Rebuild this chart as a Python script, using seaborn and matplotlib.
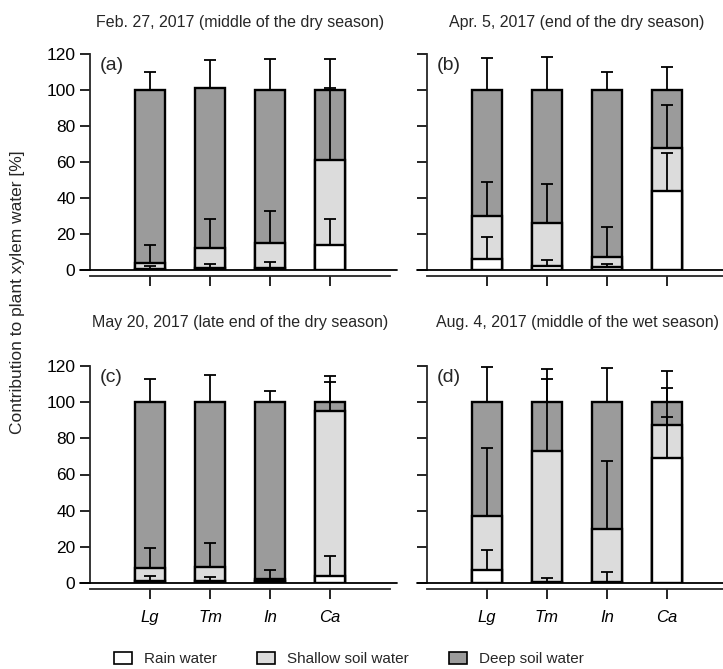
import matplotlib
matplotlib.use("Agg")
import matplotlib.pyplot as plt
import numpy as np
import pandas as pd
import seaborn as sns
from matplotlib.patches import Patch

# ---- data: mean contribution of each water source (%) and upper SD ----
species = ["Lg", "Tm", "In", "Ca"]
sources = ["Rain water", "Shallow soil water", "Deep soil water"]
panel_letters = ["(a)", "(b)", "(c)", "(d)"]
panel_titles = [
    "Feb. 27, 2017 (middle of the dry season)",
    "Apr. 5, 2017 (end of the dry season)",
    "May 20, 2017 (late end of the dry season)",
    "Aug. 4, 2017 (middle of the wet season)",
]

rain_a = [0.5, 1.0, 1.0, 14.0]
shallow_a = [3.5, 11.0, 14.0, 47.0]
deep_a = [96.0, 89.0, 85.0, 39.0]
rain_sd_a = [1.5, 2.3, 3.3, 14.3]
shallow_sd_a = [10.0, 16.5, 18.0, 40.3]
deep_sd_a = [10.0, 15.6, 17.0, 17.2]

rain_b = [6.0, 2.0, 1.5, 44.0]
shallow_b = [24.0, 24.0, 5.5, 24.0]
deep_b = [70.0, 74.0, 93.0, 32.0]
rain_sd_b = [12.2, 3.3, 1.8, 21.2]
shallow_sd_b = [19.0, 21.7, 16.8, 23.7]
deep_sd_b = [17.7, 18.6, 9.8, 12.9]

rain_c = [1.0, 1.0, 1.0, 4.0]
shallow_c = [7.3, 8.0, 1.4, 91.0]
deep_c = [91.7, 91.0, 97.6, 5.0]
rain_sd_c = [3.0, 2.3, 0.8, 10.7]
shallow_sd_c = [10.8, 13.2, 4.6, 16.4]
deep_sd_c = [12.7, 15.0, 6.0, 14.3]

rain_d = [7.0, 0.7, 0.7, 69.0]
shallow_d = [30.0, 72.3, 29.3, 18.3]
deep_d = [63.0, 27.0, 70.0, 12.7]
rain_sd_d = [11.5, 2.1, 5.2, 22.7]
shallow_sd_d = [37.5, 40.0, 37.7, 20.8]
deep_sd_d = [19.2, 18.6, 19.0, 17.2]

panels = [
    (rain_a, shallow_a, deep_a, rain_sd_a, shallow_sd_a, deep_sd_a),
    (rain_b, shallow_b, deep_b, rain_sd_b, shallow_sd_b, deep_sd_b),
    (rain_c, shallow_c, deep_c, rain_sd_c, shallow_sd_c, deep_sd_c),
    (rain_d, shallow_d, deep_d, rain_sd_d, shallow_sd_d, deep_sd_d),
]

colors = {"Rain water": "#ffffff", "Shallow soil water": "#dcdcdc",
          "Deep soil water": "#9b9b9b"}

sns.set_style("ticks")
plt.rcParams["font.family"] = ["Liberation Sans", "DejaVu Sans"]

W, H = 723, 669
fig = plt.figure(figsize=(W / 100, H / 100), dpi=100)

# axes boxes in pixels: left, top(y=120), width, height
boxes = [(90, 54, 300, 216), (427, 54, 300, 216),
         (90, 366, 300, 217), (427, 366, 300, 217)]
title_y = [22, 22, 323, 323]

for i, (box, vals) in enumerate(zip(boxes, panels)):
    left, top, w, h = box
    ax = fig.add_axes([left / W, 1 - (top + h) / H, w / W, h / H])
    rain, shallow, deep, rsd, ssd, dsd = [np.asarray(v, float) for v in vals]
    cum_rain = rain
    cum_shallow = rain + shallow
    cum_deep = rain + shallow + deep
    df = pd.DataFrame({
        "species": species * 3,
        "source": np.repeat(sources, len(species)),
        "cum": np.concatenate([cum_rain, cum_shallow, cum_deep]),
    })
    # stacked look: draw the tallest cumulative level first
    for src in sources[::-1]:
        sub = df[df["source"] == src]
        sns.barplot(data=sub, x="species", y="cum", order=species,
                    color=colors[src], saturation=1, edgecolor="black",
                    linewidth=1.7, width=0.5, errorbar=None, ax=ax, zorder=2)
    x = np.arange(len(species))
    for cum, sd in [(cum_rain, rsd), (cum_shallow, ssd), (cum_deep, dsd)]:
        ax.errorbar(x, cum, yerr=[np.zeros_like(sd), sd], fmt="none",
                    ecolor="black", elinewidth=1.3, capsize=4.5,
                    capthick=1.3, zorder=5)

    ax.set_xlim(-1, 4)
    ax.set_ylim(0, 120)
    ax.set_yticks([0, 20, 40, 60, 80, 100, 120])
    ax.set_xlabel("")
    ax.set_ylabel("")
    for s in ["top", "right"]:
        ax.spines[s].set_visible(False)
    ax.spines["left"].set_linewidth(1.3)
    ax.spines["bottom"].set_linewidth(1.3)
    ax.spines["bottom"].set_position(("outward", 4.5))
    ax.axhline(0, xmin=-10 / 300, xmax=1.023, color="black", lw=1.3,
               clip_on=False, zorder=6)
    ax.tick_params(axis="both", direction="out", length=7, width=1.2,
                   labelsize=12.5, colors="black")
    ax.tick_params(axis="x", pad=8, labelsize=12)
    if i % 2 == 1:
        ax.set_yticklabels([])
    if i < 2:
        ax.set_xticklabels([])
    else:
        ax.set_xticklabels(species, fontstyle="italic")

    ax.text(10 / w, 1 - 12 / h, panel_letters[i], transform=ax.transAxes,
            ha="left", va="center", fontsize=14)
    fig.text((left + w / 2) / W, 1 - title_y[i] / H, panel_titles[i],
             ha="center", va="center", fontsize=11.5)

fig.text(18 / W, 1 - 292 / H, "Contribution to plant xylem water [%]",
         rotation=90, ha="center", va="center", fontsize=12.5)

handles = [Patch(facecolor=colors[s], edgecolor="black", linewidth=1.2,
                 label=s) for s in sources]
fig.legend(handles=handles, loc="center", bbox_to_anchor=(349 / W, 1 - 659 / H),
           ncol=3, frameon=False, fontsize=11, handlelength=1.2,
           handleheight=0.8, handletextpad=0.8, columnspacing=2.6)

fig.savefig("out.png", dpi=100)
